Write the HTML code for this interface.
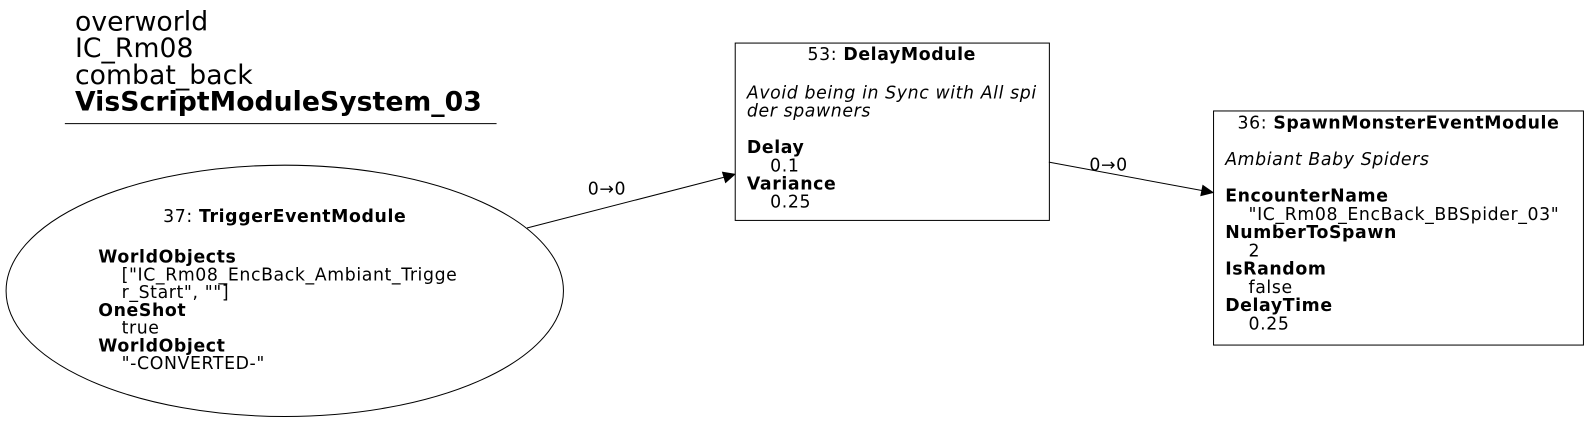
<!DOCTYPE html>
<html><head><meta charset="utf-8"><style>
html,body{margin:0;padding:0;background:#fff;}
svg text{font-family:"DejaVu Sans","Liberation Sans",sans-serif;font-size:17.1px;letter-spacing:0.6px;fill:#000;}
.b{font-weight:bold;}
.i{font-style:italic;}
.t{font-size:26.3px;letter-spacing:0.05px;}
</style></head><body>
<svg width="1589" height="424" viewBox="0 0 1589 424" xmlns="http://www.w3.org/2000/svg">
<g transform="scale(1.0134)">
<text x="74" y="30" class="t">overworld</text>
<text x="74" y="56" class="t">IC_Rm08</text>
<text x="74" y="83" class="t">combat_back</text>
<text x="74" y="109" class="b t">VisScriptModuleSystem_03</text>
<line x1="64" y1="122" x2="490" y2="122" stroke="#000" stroke-width="1"/>

<ellipse cx="281" cy="287" rx="275" ry="124" fill="none" stroke="#000"/>
<text x="281" y="219" text-anchor="middle">37: <tspan class="b">TriggerEventModule</tspan></text>
<text x="97" y="259" class="b">WorldObjects</text>
<text x="120" y="277">["IC_Rm08_EncBack_Ambiant_Trigge</text>
<text x="120" y="294">r_Start", ""]</text>
<text x="97" y="312" class="b">OneShot</text>
<text x="120" y="329">true</text>
<text x="97" y="347" class="b">WorldObject</text>
<text x="120" y="364">"-CONVERTED-"</text>

<rect x="725.5" y="42.5" width="310" height="175" fill="none" stroke="#000"/>
<text x="880" y="59" text-anchor="middle">53: <tspan class="b">DelayModule</tspan></text>
<text x="737" y="97" class="i">Avoid being in Sync with All spi</text>
<text x="737" y="115" class="i">der spawners</text>
<text x="737" y="151" class="b">Delay</text>
<text x="760" y="169">0.1</text>
<text x="737" y="187" class="b">Variance</text>
<text x="760" y="205">0.25</text>

<rect x="1197.5" y="109.5" width="365" height="231" fill="none" stroke="#000"/>
<text x="1380" y="127" text-anchor="middle">36: <tspan class="b">SpawnMonsterEventModule</tspan></text>
<text x="1209" y="163" class="i">Ambiant Baby Spiders</text>
<text x="1209" y="199" class="b">EncounterName</text>
<text x="1232" y="217">"IC_Rm08_EncBack_BBSpider_03"</text>
<text x="1209" y="235" class="b">NumberToSpawn</text>
<text x="1232" y="253">2</text>
<text x="1209" y="271" class="b">IsRandom</text>
<text x="1232" y="289">false</text>
<text x="1209" y="307" class="b">DelayTime</text>
<text x="1232" y="325">0.25</text>

<line x1="520" y1="225" x2="714" y2="175" stroke="#000"/>
<polygon points="725,172 713,170 716,180" fill="#000" stroke="#000"/>
<text x="580" y="192">0→0</text>
<line x1="1035" y1="160" x2="1186" y2="188" stroke="#000"/>
<polygon points="1197,190 1187,183 1185,193" fill="#000" stroke="#000"/>
<text x="1075" y="168">0→0</text>
</g>
</svg>
</body></html>
